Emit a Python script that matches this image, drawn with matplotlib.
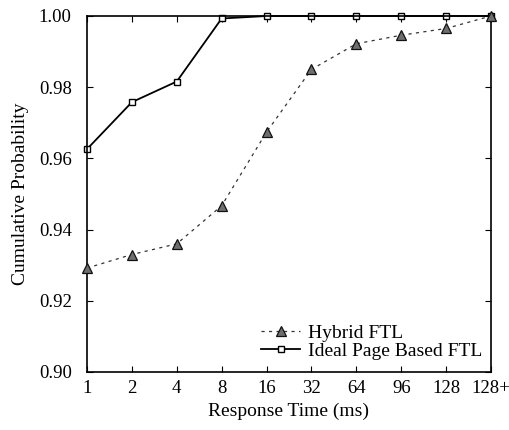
import matplotlib
matplotlib.use("Agg")
from matplotlib import pyplot as plt

labels = ["1", "2", "4", "8", "16", "32", "64", "96", "128", "128+"]
hybrid = [0.9292, 0.9330, 0.9360, 0.9467, 0.9674, 0.9850, 0.9922, 0.9946, 0.9965, 1.0]
ideal = [0.9626, 0.9758, 0.9816, 0.9993, 1.0, 1.0, 1.0, 1.0, 1.0, 1.0]

plt.rcParams['font.family'] = ['Liberation Serif', 'DejaVu Serif']
plt.rcParams['font.size'] = 13.5

fig = plt.figure(figsize=(5.1, 4.3), dpi=100)
# axes box placed in pixels to match the reference
ax = fig.add_axes([87/510, 58/430, 404/510, 356/430])

x = list(range(len(labels)))
ax.plot(x, ideal, color='black', linestyle='-', linewidth=1.3,
        marker='s', markersize=5, markerfacecolor='white',
        markeredgecolor='black', markeredgewidth=1.0,
        label='Ideal Page Based FTL', zorder=2, clip_on=False)
ax.plot(x, hybrid, color='#333333', linestyle=(0, (2.5, 3.5)), linewidth=0.9,
        marker='^', markersize=7.5, markerfacecolor='#6e6e6e',
        markeredgecolor='#111111', markeredgewidth=0.9,
        label='Hybrid FTL', zorder=3, clip_on=False)

ax.set_xlim(0, len(labels) - 1)
ax.set_ylim(0.90, 1.00)
ax.set_xticks(x)
ax.set_xticklabels(labels)
ax.set_yticks([0.90, 0.92, 0.94, 0.96, 0.98, 1.00])
ax.set_yticklabels(["0.90", "0.92", "0.94", "0.96", "0.98", "1.00"])
ax.tick_params(direction='in', top=True, right=True, length=4, width=0.8,
               labelsize=13.5)
ax.tick_params(axis='y', pad=11)
ax.tick_params(axis='x', pad=6)
for s in ax.spines.values():
    s.set_linewidth(1.2)
ax.set_xlabel("Response Time (ms)", fontsize=14, labelpad=4)
ax.set_ylabel("Cumulative Probability", fontsize=14, labelpad=7)

h, l = ax.get_legend_handles_labels()
ax.legend(h[::-1], l[::-1], loc='lower right', bbox_to_anchor=(0.978, 0.035),
          frameon=False, fontsize=14, handlelength=2.0, handletextpad=0.4,
          borderpad=0, borderaxespad=0, labelspacing=0.0, numpoints=1)

fig.savefig("out.png", dpi=100)
